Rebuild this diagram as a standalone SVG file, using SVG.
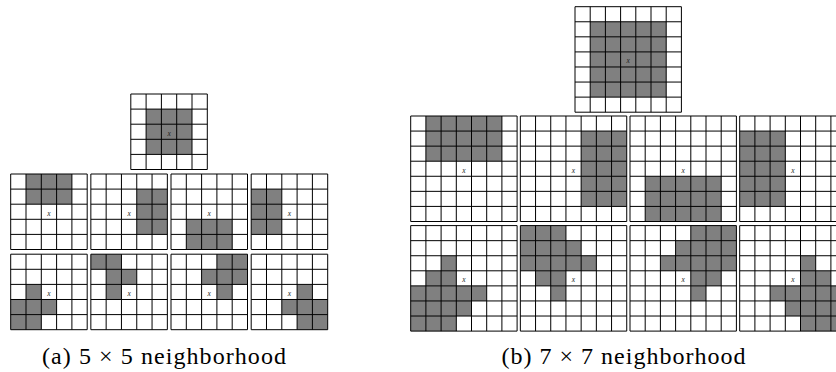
<svg xmlns="http://www.w3.org/2000/svg" xmlns:xlink="http://www.w3.org/1999/xlink" width="836" height="372" viewBox="0 0 836 372">
<style>
.on{fill:#808080;stroke:none}
.grid{fill:none;stroke:#000;stroke-width:1}
.lbl{font-family:"Liberation Serif","DejaVu Serif",serif;font-style:italic;font-size:7.5px;fill:#222;text-anchor:middle}
.cap{font-family:"Liberation Serif","DejaVu Serif",serif;font-size:24px;fill:#000}
</style>
<defs>
<path id="g5" class="grid" d="M0,0H76.5V75.5H0Z M15.3,0V75.5 M30.6,0V75.5 M45.9,0V75.5 M61.2,0V75.5 M0,15.1H76.5 M0,30.2H76.5 M0,45.3H76.5 M0,60.4H76.5"/>
<path id="g7" class="grid" d="M0,0H106.4V105.5H0Z M15.2,0V105.5 M30.4,0V105.5 M45.6,0V105.5 M60.8,0V105.5 M76,0V105.5 M91.2,0V105.5 M0,15.07H106.4 M0,30.14H106.4 M0,45.21H106.4 M0,60.28H106.4 M0,75.35H106.4 M0,90.42H106.4"/>
</defs>

<!-- (a) 5x5 -->
<g id="a-top" transform="translate(130.8,94)">
<rect class="on" x="15.3" y="15.1" width="45.9" height="45.3"/>
<use href="#g5" xlink:href="#g5"/>
<text class="lbl" x="38.25" y="41.5">x</text>
</g>
<g id="a-r1c1" transform="translate(10.7,174)">
<rect class="on" x="15.3" y="0" width="45.9" height="30.2"/>
<use href="#g5" xlink:href="#g5"/>
<text class="lbl" x="38.25" y="41.5">x</text>
</g>
<g id="a-r1c2" transform="translate(90.85,174)">
<rect class="on" x="45.9" y="15.1" width="30.6" height="45.3"/>
<use href="#g5" xlink:href="#g5"/>
<text class="lbl" x="38.25" y="41.5">x</text>
</g>
<g id="a-r1c3" transform="translate(171,174)">
<rect class="on" x="15.3" y="45.3" width="45.9" height="30.2"/>
<use href="#g5" xlink:href="#g5"/>
<text class="lbl" x="38.25" y="41.5">x</text>
</g>
<g id="a-r1c4" transform="translate(251.2,174)">
<rect class="on" x="0" y="15.1" width="30.6" height="45.3"/>
<use href="#g5" xlink:href="#g5"/>
<text class="lbl" x="38.25" y="41.5">x</text>
</g>
<g id="a-r2c1" transform="translate(10.7,254.2)">
<rect class="on" x="15.3" y="30.2" width="15.3" height="15.1"/>
<rect class="on" x="0" y="45.3" width="45.9" height="15.1"/>
<rect class="on" x="0" y="60.4" width="30.6" height="15.1"/>
<use href="#g5" xlink:href="#g5"/>
<text class="lbl" x="38.25" y="41.5">x</text>
</g>
<g id="a-r2c2" transform="translate(90.85,254.2)">
<rect class="on" x="0" y="0" width="30.6" height="15.1"/>
<rect class="on" x="15.3" y="15.1" width="30.6" height="15.1"/>
<rect class="on" x="15.3" y="30.2" width="15.3" height="15.1"/>
<use href="#g5" xlink:href="#g5"/>
<text class="lbl" x="38.25" y="41.5">x</text>
</g>
<g id="a-r2c3" transform="translate(171,254.2)">
<rect class="on" x="45.9" y="0" width="30.6" height="15.1"/>
<rect class="on" x="30.6" y="15.1" width="45.9" height="15.1"/>
<rect class="on" x="45.9" y="30.2" width="15.3" height="15.1"/>
<use href="#g5" xlink:href="#g5"/>
<text class="lbl" x="38.25" y="41.5">x</text>
</g>
<g id="a-r2c4" transform="translate(251.2,254.2)">
<rect class="on" x="45.9" y="30.2" width="15.3" height="15.1"/>
<rect class="on" x="30.6" y="45.3" width="45.9" height="15.1"/>
<rect class="on" x="45.9" y="60.4" width="30.6" height="15.1"/>
<use href="#g5" xlink:href="#g5"/>
<text class="lbl" x="38.25" y="41.5">x</text>
</g>

<!-- (b) 7x7 -->
<g id="b-top" transform="translate(575,6.7)">
<rect class="on" x="15.2" y="15.07" width="76" height="75.35"/>
<use href="#g7" xlink:href="#g7"/>
<text class="lbl" x="53.2" y="56.5">x</text>
</g>
<g id="b-r1c1" transform="translate(410.7,116)">
<rect class="on" x="15.2" y="0" width="76" height="45.21"/>
<use href="#g7" xlink:href="#g7"/>
<text class="lbl" x="53.2" y="56.5">x</text>
</g>
<g id="b-r1c2" transform="translate(520.35,116)">
<rect class="on" x="60.8" y="15.07" width="45.6" height="75.35"/>
<use href="#g7" xlink:href="#g7"/>
<text class="lbl" x="53.2" y="56.5">x</text>
</g>
<g id="b-r1c3" transform="translate(630,116)">
<rect class="on" x="15.2" y="60.28" width="76" height="45.21"/>
<use href="#g7" xlink:href="#g7"/>
<text class="lbl" x="53.2" y="56.5">x</text>
</g>
<g id="b-r1c4" transform="translate(739.7,116)">
<rect class="on" x="0" y="15.07" width="45.6" height="75.35"/>
<use href="#g7" xlink:href="#g7"/>
<text class="lbl" x="53.2" y="56.5">x</text>
</g>
<g id="b-r2c1" transform="translate(410.7,225.6)">
<rect class="on" x="30.4" y="30.14" width="15.2" height="15.07"/>
<rect class="on" x="15.2" y="45.21" width="30.4" height="15.07"/>
<rect class="on" x="0" y="60.28" width="76" height="15.07"/>
<rect class="on" x="0" y="75.35" width="60.8" height="15.07"/>
<rect class="on" x="0" y="90.42" width="45.6" height="15.07"/>
<use href="#g7" xlink:href="#g7"/>
<text class="lbl" x="53.2" y="56.5">x</text>
</g>
<g id="b-r2c2" transform="translate(520.35,225.6)">
<rect class="on" x="0" y="0" width="45.6" height="15.07"/>
<rect class="on" x="0" y="15.07" width="60.8" height="15.07"/>
<rect class="on" x="0" y="30.14" width="76" height="15.07"/>
<rect class="on" x="15.2" y="45.21" width="30.4" height="15.07"/>
<rect class="on" x="30.4" y="60.28" width="15.2" height="15.07"/>
<use href="#g7" xlink:href="#g7"/>
<text class="lbl" x="53.2" y="56.5">x</text>
</g>
<g id="b-r2c3" transform="translate(630,225.6)">
<rect class="on" x="60.8" y="0" width="45.6" height="15.07"/>
<rect class="on" x="45.6" y="15.07" width="60.8" height="15.07"/>
<rect class="on" x="30.4" y="30.14" width="76" height="15.07"/>
<rect class="on" x="60.8" y="45.21" width="30.4" height="15.07"/>
<rect class="on" x="60.8" y="60.28" width="15.2" height="15.07"/>
<use href="#g7" xlink:href="#g7"/>
<text class="lbl" x="53.2" y="56.5">x</text>
</g>
<g id="b-r2c4" transform="translate(739.7,225.6)">
<rect class="on" x="60.8" y="30.14" width="15.2" height="15.07"/>
<rect class="on" x="60.8" y="45.21" width="30.4" height="15.07"/>
<rect class="on" x="30.4" y="60.28" width="76" height="15.07"/>
<rect class="on" x="45.6" y="75.35" width="60.8" height="15.07"/>
<rect class="on" x="60.8" y="90.42" width="45.6" height="15.07"/>
<use href="#g7" xlink:href="#g7"/>
<text class="lbl" x="53.2" y="56.5">x</text>
</g>

<g id="captions">
<text class="cap" x="42" y="363.5" textLength="244" lengthAdjust="spacing">(a) 5 × 5 neighborhood</text>
<text class="cap" x="501.5" y="363.5" textLength="244" lengthAdjust="spacing">(b) 7 × 7 neighborhood</text>
</g>
<g id="connectors"/>
</svg>
